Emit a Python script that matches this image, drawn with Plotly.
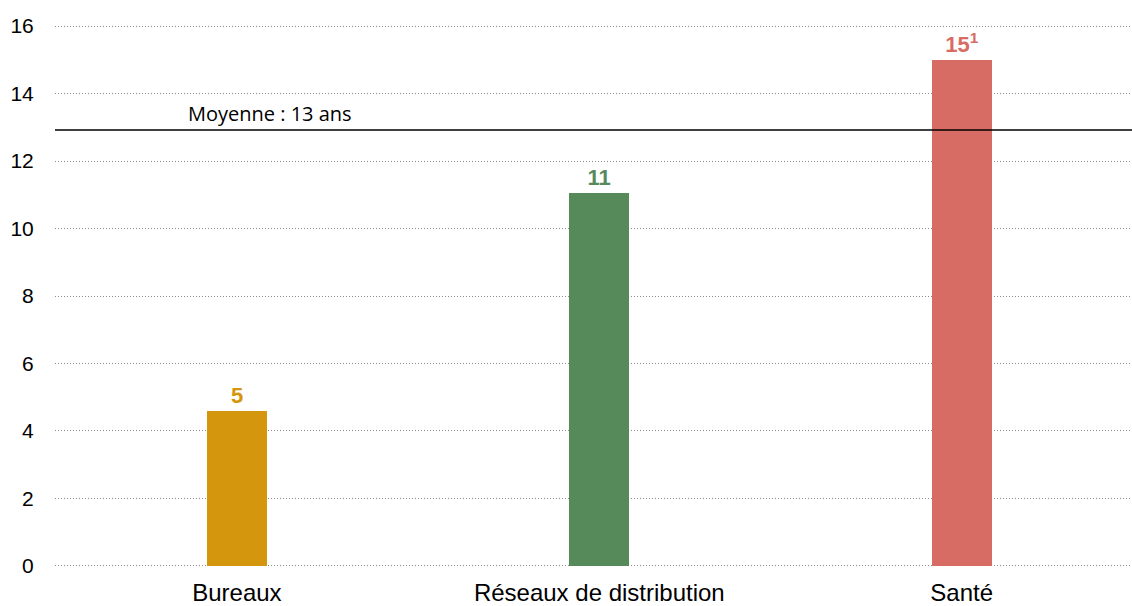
import plotly.graph_objects as go

categories = ["Bureaux", "Réseaux de distribution", "Santé"]
values = [4.6, 11.05, 15.0]
value_labels = ["<b>5</b>", "<b>11</b>", "<b>15<sup>1</sup></b>"]
colors = ["#D4960C", "#578A5B", "#D76C64"]
mean_value = 12.92
mean_label = "Moyenne : 13 ans"
y_ticks = [0, 2, 4, 6, 8, 10, 12, 14, 16]

x_pos = list(range(len(categories)))

fig = go.Figure()
fig.add_trace(go.Bar(
    x=x_pos, y=values, width=0.166,
    marker=dict(color=colors, line=dict(width=0)),
    text=value_labels, textposition="outside",
    textfont=dict(family="Arial, Liberation Sans", size=22, color=colors),
    cliponaxis=False, showlegend=False,
))

fig.add_shape(type="line", xref="paper", x0=0, x1=1, yref="y", y0=mean_value, y1=mean_value,
              line=dict(color="black", width=1.5), layer="above")
fig.add_annotation(x=0.2, xref="paper", xanchor="center", y=mean_value, yref="y", text=mean_label,
                   showarrow=False, yanchor="bottom", yshift=1,
                   font=dict(family="Open Sans, Lato, sans-serif", size=20, color="black"))

fig.update_layout(
    width=1132, height=606,
    margin=dict(l=55, r=0, t=24, b=34),
    plot_bgcolor="white", paper_bgcolor="white",
    bargap=0,
    xaxis=dict(range=[-0.502, 2.47], tickmode="array", tickvals=x_pos, ticktext=categories,
               showgrid=False, zeroline=False, showline=False,
               tickfont=dict(family="Arial, Liberation Sans", size=24, color="black"),
               ticks="outside", ticklen=3, tickcolor="rgba(0,0,0,0)"),
    yaxis=dict(range=[-0.06, 16.06], tickmode="array", tickvals=y_ticks,
               showgrid=True, gridcolor="#8c8c8c", griddash="1px,2px", gridwidth=1.3,
               zeroline=False, showline=False,
               tickfont=dict(family="Arial, Liberation Sans", size=21, color="black"),
               ticks="outside", ticklen=16, tickcolor="rgba(0,0,0,0)"),
)

fig.write_html("out.html")
